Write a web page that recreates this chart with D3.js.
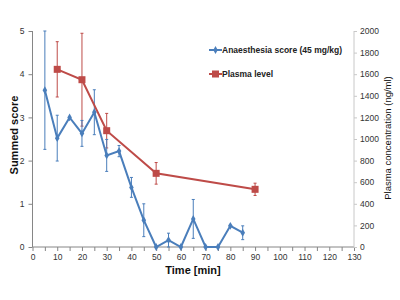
<!DOCTYPE html>
<html><head><meta charset="utf-8">
<script src="https://cdn.jsdelivr.net/npm/d3@7"></script>
<style>body{margin:0;background:#fff}svg{display:block}text{font-family:Arial,"Liberation Sans",sans-serif}</style>
</head><body><svg id="c" width="400" height="300"></svg>
<script>
const scoreTime = [5,10,15,20,25,30,35,40,45,50,55,60,65,70,75,80,85];
const scoreVal  = [3.63,2.52,3.0,2.63,3.12,2.12,2.22,1.38,0.62,0,0.16,0,0.65,0,0,0.49,0.33];
const scoreErr  = [1.37,0.53,0,0.3,0.52,0.37,0.13,0.23,0.38,0,0.16,0,0.45,0,0,0,0.16];
const plasmaTime = [10,20,30,50,90];
const plasmaVal  = [1645,1549,1077,682,534];
const plasmaErr  = [256,430,160,100,57];
const xTicks = [0,10,20,30,40,50,60,70,80,90,100,110,120,130];
const yLeftTicks = [0,1,2,3,4,5];
const yRightTicks = [0,200,400,600,800,1000,1200,1400,1600,1800,2000];

const svg = d3.select("#c");
const L=32.5,R=354,T=31,B=247;
const x = d3.scaleLinear().domain([0,130]).range([L,R]);
const yl = d3.scaleLinear().domain([0,5]).range([B,T]);
const yr = d3.scaleLinear().domain([0,2000]).range([B,T]);
const blue="#4a7ebb", red="#be4b48";

// axes
const gx = svg.append("g").attr("transform",`translate(0,${B})`)
  .call(d3.axisBottom(x).tickValues(d3.range(0,131,5)).tickSize(4).tickFormat(d=>xTicks.includes(d)?d:""));
const gl = svg.append("g").attr("transform",`translate(${L},0)`)
  .call(d3.axisLeft(yl).tickValues(yLeftTicks).tickSize(4).tickFormat(d3.format("d")));
const gr = svg.append("g").attr("transform",`translate(${R},0)`)
  .call(d3.axisRight(yr).tickValues(yRightTicks).tickSize(3).tickFormat(d3.format("d")));
[gx,gl].forEach(g=>{g.selectAll("path,line").attr("stroke","#868686");g.selectAll("text").attr("fill","#333").attr("font-size",8.5);});
gr.selectAll("path,line").attr("stroke","#c8c8c8");
gr.selectAll("text").attr("fill","#333").attr("font-size",8.5).attr("x",6);
gx.select(".domain").attr("d",`M${L},0H${R}`);
gl.select(".domain").attr("d",`M0,${B}V${T}`);
gr.select(".domain").attr("d",`M0,${B}V${T}`);
gl.selectAll("text").attr("x",-8);
gx.selectAll("text").attr("y",7);

// error bars
function errBars(times,vals,errs,ys,col,cap){
  const g=svg.append("g").attr("stroke",col).attr("stroke-width",1);
  times.forEach((t,i)=>{
    if(!errs[i]) return;
    const lo=Math.max(0,vals[i]-errs[i]), hi=vals[i]+errs[i];
    const cx=x(t);
    g.append("line").attr("x1",cx).attr("x2",cx).attr("y1",ys(lo)).attr("y2",ys(hi));
    g.append("line").attr("x1",cx-cap).attr("x2",cx+cap).attr("y1",ys(lo)).attr("y2",ys(lo));
    g.append("line").attr("x1",cx-cap).attr("x2",cx+cap).attr("y1",ys(hi)).attr("y2",ys(hi));
  });
}
errBars(plasmaTime,plasmaVal,plasmaErr,yr,red,1.5);
errBars(scoreTime,scoreVal,scoreErr,yl,blue,1.5);

// plasma line
svg.append("path").datum(plasmaTime.map((t,i)=>[t,plasmaVal[i]]))
  .attr("fill","none").attr("stroke",red).attr("stroke-width",2)
  .attr("d",d3.line().x(d=>x(d[0])).y(d=>yr(d[1])));
svg.selectAll(".sq").data(plasmaTime).join("rect")
  .attr("x",(d)=>x(d)-3.5).attr("y",(d,i)=>yr(plasmaVal[i])-3.5).attr("width",7).attr("height",7).attr("fill",red);

// score line
svg.append("path").datum(scoreTime.map((t,i)=>[t,scoreVal[i]]))
  .attr("fill","none").attr("stroke",blue).attr("stroke-width",2)
  .attr("d",d3.line().x(d=>x(d[0])).y(d=>yl(d[1])));
const dia=d3.symbol().type(d3.symbolDiamond).size(18);
svg.selectAll(".dm").data(scoreTime).join("path")
  .attr("transform",(d,i)=>`translate(${x(d)},${yl(scoreVal[i])})`).attr("d",dia).attr("fill",blue);

// legend
const lg=svg.append("g");
lg.append("line").attr("x1",209).attr("x2",222).attr("y1",50).attr("y2",50).attr("stroke",blue).attr("stroke-width",2);
lg.append("path").attr("transform","translate(215.5,50)").attr("d",dia).attr("fill",blue);
lg.append("text").attr("x",222).attr("y",53).attr("font-size",8.5).attr("font-weight","bold").attr("fill","#222").text("Anaesthesia score (45 mg/kg)");
lg.append("line").attr("x1",209).attr("x2",222).attr("y1",74).attr("y2",74).attr("stroke",red).attr("stroke-width",2);
lg.append("rect").attr("x",212).attr("y",70.5).attr("width",7).attr("height",7).attr("fill",red);
lg.append("text").attr("x",222).attr("y",77).attr("font-size",8.5).attr("font-weight","bold").attr("fill","#222").text("Plasma level");

// titles
svg.append("text").attr("x",193).attr("y",274).attr("text-anchor","middle").attr("font-size",11).attr("font-weight","bold").attr("fill","#111").text("Time [min]");
svg.append("text").attr("transform","translate(18,135) rotate(-90)").attr("text-anchor","middle").attr("font-size",11).attr("font-weight","bold").attr("fill","#111").text("Summed score");
svg.append("text").attr("transform","translate(391,138) rotate(-90)").attr("text-anchor","middle").attr("font-size",9.5).attr("fill","#111").text("Plasma concentration (ng/ml)");
</script></body></html>
